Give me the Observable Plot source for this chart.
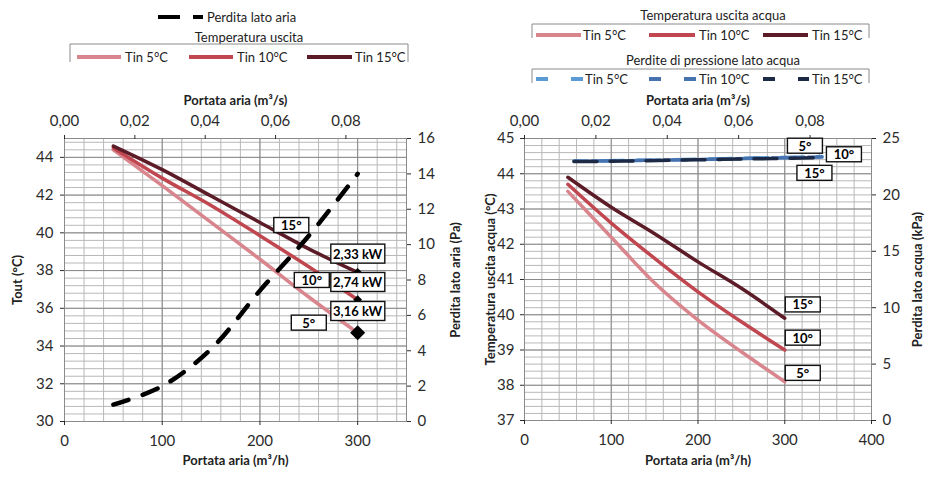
<!DOCTYPE html>
<html><head><meta charset="utf-8">
<script src="https://cdn.jsdelivr.net/npm/d3@7"></script>
<script src="https://cdn.jsdelivr.net/npm/@observablehq/plot@0.6"></script>
<style>
body{margin:0;background:#fff;font-family:Lato,sans-serif;}
#root{position:relative;width:928px;height:479px;overflow:hidden;background:#fff}
.chart{position:absolute;top:88px;width:464px;height:391px}
#legend{position:absolute;left:0;top:0}
</style></head><body>
<div id="root">
<svg id="legend" width="928" height="88"></svg>
<div class="chart" id="leftChart" style="left:0"></div>
<div class="chart" id="rightChart" style="left:464px"></div>
</div>
<script>
// ---------- DATA ----------
const airflow = [50, 100, 150, 200, 250, 300];              // m3/h
// Left chart: Tout (°C)
const toutTin5  = [44.4, 42.5, 40.55, 38.6, 36.6, 34.7];
const toutTin10 = [44.5, 42.9, 41.45, 39.85, 38.2, 36.45];
const toutTin15 = [44.6, 43.35, 41.95, 40.55, 39.15, 37.9];
const perditaAria = [0.95, 2.0, 4.1, 7.4, 10.5, 14.0];     // Pa
const powerLabels = ["3,16 kW", "2,74 kW", "2,33 kW"];      // Tin 5, 10, 15
// Right chart: Temperatura uscita acqua (°C)
const acquaTin5  = [43.5, 42.2, 40.9, 39.85, 38.95, 38.1];
const acquaTin10 = [43.7, 42.6, 41.6, 40.65, 39.8, 39.0];
const acquaTin15 = [43.9, 43.05, 42.3, 41.5, 40.75, 39.9];
// Right chart: Perdite di pressione lato acqua (kPa)
const dpTin5  = [23.0, 23.05, 23.12, 23.2, 23.3, 23.4];
const dpTin10 = [22.98, 23.03, 23.1, 23.18, 23.27, 23.35];
const dpTin15 = [22.95, 23.0, 23.07, 23.15, 23.22, 23.3];
const seriesNames = ["Tin 5°C", "Tin 10°C", "Tin 15°C"];
const degreeNames = ["5°", "10°", "15°"];
// Tick labels
const bottomTicksL = [0, 100, 200, 300];
const bottomTicksR = [0, 100, 200, 300, 400];
const topTicksQ = [0, 0.02, 0.04, 0.06, 0.08];               // m3/s
const yTicksL = [30, 32, 34, 36, 38, 40, 42, 44];
const y2TicksL = [0, 2, 4, 6, 8, 10, 12, 14, 16];
const yTicksR = [37, 38, 39, 40, 41, 42, 43, 44, 45];
const y2TicksR = [0, 5, 10, 15, 20, 25];

// ---------- STYLE ----------
const reds = ["#d9858d", "#c0464f", "#5b1b27"];
const blues = ["#5b9bd5", "#4672b0", "#1d2a45"];
const minorGrid = "#b8b8b8", majorGrid = "#8a8a8a", axisGray = "#8a8a8a";
const font = "Lato, sans-serif";
const fmtQ = d => d.toFixed(2).replace(".", ",");
const titleOpts = {fontWeight: "bold", fontSize: 13, textAnchor: "middle", lineAnchor: "middle", fill: "#222"};

// ---------- LEFT CHART ----------
const yP = p => 30 + p * 15 / 16;           // Pa -> left y scale
const toutSeries = [toutTin5, toutTin10, toutTin15];
const leftRows = toutSeries.map(vals => vals.map((v, i) => ({x: airflow[i], y: v})));
const pressRows = perditaAria.map((p, i) => ({x: airflow[i], y: yP(p)}));
const endRowsL = toutSeries.map((vals, k) => ({x: airflow[airflow.length - 1], y: vals[vals.length - 1], label: powerLabels[k]}));
const minorXL = d3.range(0, 350, 20), minorYL = d3.range(0, 38).map(i => 30 + i * 0.4);

const degOffsetsL = [[0, 26.5], [3, 14], [-17.5, -23]];
const kwOffsetsL = [-21, -17, -18];
const diamondR = [6.8, 4, 4];

const left = Plot.plot({
  width: 464, height: 391,
  marginTop: 50, marginBottom: 58, marginLeft: 64, marginRight: 58,
  x: {domain: [0, 350]},
  y: {domain: [30, 45]},
  style: {fontFamily: font, fontSize: "15px", color: "#2b2b2b", background: "white"},
  marks: [
    Plot.ruleX(minorXL, {stroke: minorGrid}),
    Plot.ruleY(minorYL, {stroke: minorGrid}),
    Plot.ruleX(bottomTicksL, {stroke: majorGrid}),
    Plot.ruleY(yTicksL, {stroke: majorGrid}),
    Plot.frame({stroke: axisGray}),
    Plot.axisX({anchor: "bottom", ticks: bottomTicksL, tickSize: 4, tickPadding: 10, label: null}),
    Plot.axisX({anchor: "top", ticks: topTicksQ.map(q => q * 3600), tickFormat: d => fmtQ(d / 3600), tickSize: 4, tickPadding: 9, label: null}),
    Plot.axisY({anchor: "left", ticks: yTicksL, tickSize: 4, tickPadding: 7, label: null}),
    Plot.axisY({anchor: "right", ticks: y2TicksL.map(yP), tickFormat: d => String(Math.round((d - 30) * 16 / 15)), tickSize: 4, tickPadding: 7, label: null}),
    Plot.text(["Portata aria (m³/h)"], {frameAnchor: "bottom", dy: 39, ...titleOpts}),
    Plot.text(["Portata aria (m³/s)"], {frameAnchor: "top", dy: -38, ...titleOpts}),
    Plot.text(["Tout (°C)"], {frameAnchor: "left", dx: -47, rotate: -90, ...titleOpts}),
    Plot.text(["Perdita lato aria (Pa)"], {frameAnchor: "right", dx: 49, rotate: -90, ...titleOpts}),
    ...leftRows.map((rows, k) => Plot.line(rows, {x: "x", y: "y", stroke: reds[k], strokeWidth: 3.5, curve: "catmull-rom"})),
    Plot.line(pressRows, {x: "x", y: "y", stroke: "#000", strokeWidth: 4.5, strokeDasharray: "16,15", strokeLinecap: "round", curve: "catmull-rom"}),
    ...endRowsL.map((row, k) => Plot.dot([row], {x: "x", y: "y", symbol: "diamond2", r: diamondR[k], fill: "#000"})),
    ...endRowsL.map((row, k) => Plot.text([row], {x: "x", y: "y", text: "label", dy: kwOffsetsL[k], fontWeight: "bold", fontSize: 13, fill: "#000"})),
    ...leftRows.map((rows, k) => Plot.text([rows[4]], {x: "x", y: "y", text: () => degreeNames[k], dx: degOffsetsL[k][0], dy: degOffsetsL[k][1], fontWeight: "bold", fontSize: 13, fill: "#000"}))
  ]
});

// ---------- RIGHT CHART ----------
const yR = p => 37 + p * 8 / 25;            // kPa -> left y scale
const secX = h => h * 400 / 350;            // secondary (m3/s) axis -> bottom x scale
const acquaSeries = [acquaTin5, acquaTin10, acquaTin15];
const dpSeries = [dpTin5, dpTin10, dpTin15];
const rightRows = acquaSeries.map(vals => vals.map((v, i) => ({x: airflow[i], y: v})));
const dpRows = dpSeries.map(vals => vals.map((p, i) => ({x: secX(airflow[i]), y: yR(p)})));
const minorXR = d3.range(0, 401, 20), minorYR = d3.range(0, 41).map(i => 37 + i * 0.2);
const dpDash = [["23,13", 9], ["23,13", 18], ["23,13", 0]];
const dpOffsets = [[-17, -10], [22, -2], [-7.5, 16]];
const tOffsetsR = [[18, -8], [18, -11.5], [18, -13]];

const right = Plot.plot({
  width: 464, height: 391,
  marginTop: 50, marginBottom: 59, marginLeft: 60, marginRight: 57,
  x: {domain: [0, 400]},
  y: {domain: [37, 45]},
  style: {fontFamily: font, fontSize: "15px", color: "#2b2b2b", background: "white"},
  marks: [
    Plot.ruleX(minorXR, {stroke: minorGrid}),
    Plot.ruleY(minorYR, {stroke: minorGrid}),
    Plot.ruleX(bottomTicksR, {stroke: majorGrid}),
    Plot.ruleY(yTicksR, {stroke: majorGrid}),
    Plot.frame({stroke: axisGray}),
    Plot.axisX({anchor: "bottom", ticks: bottomTicksR, tickSize: 4, tickPadding: 10, label: null}),
    Plot.axisX({anchor: "top", ticks: topTicksQ.map(q => secX(q * 3600)), tickFormat: d => fmtQ(d * 350 / 400 / 3600), tickSize: 4, tickPadding: 9, label: null}),
    Plot.axisY({anchor: "left", ticks: yTicksR, tickSize: 4, tickPadding: 6, label: null}),
    Plot.axisY({anchor: "right", ticks: y2TicksR.map(yR), tickFormat: d => String(Math.round((d - 37) * 25 / 8)), tickSize: 4, tickPadding: 7, label: null}),
    Plot.text(["Portata aria (m³/h)"], {frameAnchor: "bottom", dy: 40, ...titleOpts}),
    Plot.text(["Portata aria (m³/s)"], {frameAnchor: "top", dy: -38, ...titleOpts}),
    Plot.text(["Temperatura uscita acqua (°C)"], {frameAnchor: "left", dx: -34, rotate: -90, ...titleOpts}),
    Plot.text(["Perdita lato acqua (kPa)"], {frameAnchor: "right", dx: 46, rotate: -90, ...titleOpts}),
    ...rightRows.map((rows, k) => Plot.line(rows, {x: "x", y: "y", stroke: reds[k], strokeWidth: 3.5, curve: "catmull-rom"})),
    ...dpRows.map((rows, k) => Plot.line(rows, {x: "x", y: "y", stroke: blues[k], strokeWidth: 3.5, strokeDasharray: dpDash[k][0], strokeDashoffset: dpDash[k][1], curve: "catmull-rom"})),
    ...rightRows.map((rows, k) => Plot.text([rows[rows.length - 1]], {x: "x", y: "y", text: () => degreeNames[k], dx: tOffsetsR[k][0], dy: tOffsetsR[k][1], fontWeight: "bold", fontSize: 13, fill: "#000"})),
    ...dpRows.map((rows, k) => Plot.text([rows[rows.length - 1]], {x: "x", y: "y", text: () => degreeNames[k], dx: dpOffsets[k][0], dy: dpOffsets[k][1], fontWeight: "bold", fontSize: 13, fill: "#000"}))
  ]
});

document.getElementById("leftChart").appendChild(left);
document.getElementById("rightChart").appendChild(right);

// boxed labels (white fill, black border) behind the annotation texts
function addBoxes(svg) {
  const degSet = new Set(degreeNames), kwSet = new Set(powerLabels);
  svg.querySelectorAll("text").forEach(t => {
    const s = t.textContent;
    let w, h;
    if (degSet.has(s)) { w = 35; h = 15; } else if (kwSet.has(s)) { w = 54; h = 19; } else return;
    const b = t.getBBox();
    const cx = b.x + b.width / 2, cy = b.y + b.height / 2;
    const r = document.createElementNS("http://www.w3.org/2000/svg", "rect");
    r.setAttribute("x", cx - w / 2); r.setAttribute("y", cy - h / 2);
    r.setAttribute("width", w); r.setAttribute("height", h);
    r.setAttribute("fill", "white"); r.setAttribute("stroke", "#111"); r.setAttribute("stroke-width", "1.4");
    const tr = t.getAttribute("transform"); if (tr) r.setAttribute("transform", tr);
    t.parentNode.insertBefore(r, t);
  });
}
addBoxes(left); addBoxes(right);

// ---------- LEGENDS ----------
const lg = d3.select("#legend").style("font-family", font).style("font-size", "13px");
function txt(x, y, s, anchor) {
  lg.append("text").attr("x", x).attr("y", y).attr("dy", "0.35em").attr("text-anchor", anchor || "start").attr("fill", "#222").text(s);
}
function sw(x1, x2, y, color, dash) {
  const l = lg.append("line").attr("x1", x1).attr("x2", x2).attr("y1", y).attr("y2", y).attr("stroke", color).attr("stroke-width", 4);
  if (dash) l.attr("stroke-dasharray", dash);
}
function bracket(x1, x2, yTop, yBot) {
  lg.append("path").attr("d", `M${x1},${yBot}V${yTop}H${x2}V${yBot}`).attr("fill", "none").attr("stroke", axisGray);
}
// left
sw(158, 203, 17, "#000", "22,13");
txt(207, 17, "Perdita lato aria");
txt(249, 37, "Temperatura uscita", "middle");
bracket(70, 408, 44, 62);
[[77, 121, 125], [189, 233, 237], [307, 352, 355]].forEach(([a, b, t], k) => { sw(a, b, 57, reds[k]); txt(t, 57, seriesNames[k]); });
// right
txt(713, 15, "Temperatura uscita acqua", "middle");
bracket(532, 869, 24, 38);
[[536, 581, 583], [649, 695, 699], [763, 808, 812]].forEach(([a, b, t], k) => { sw(a, b, 35, reds[k]); txt(t, 35, seriesNames[k]); });
txt(713, 60, "Perdite di pressione lato acqua", "middle");
bracket(532, 869, 69, 83);
[[536, 583, 585], [649, 696, 699], [763, 809, 812]].forEach(([a, b, t], k) => { sw(a, b, 79, blues[k], "12,23"); txt(t, 79, seriesNames[k]); });
</script>
</body></html>
